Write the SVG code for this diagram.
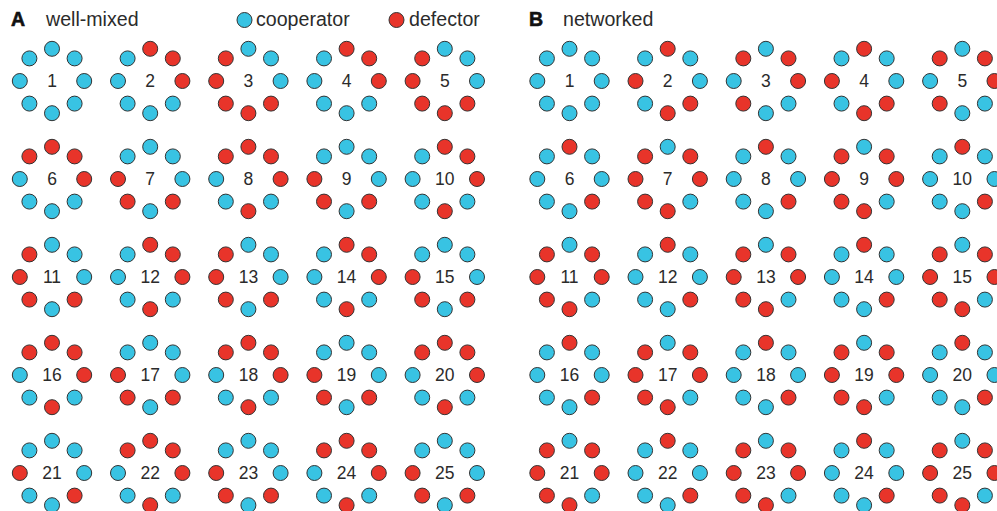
<svg xmlns="http://www.w3.org/2000/svg" xmlns:xlink="http://www.w3.org/1999/xlink" width="997" height="511" viewBox="0 0 997 511">
<style>
.c{fill:#38c3e3}
.d{fill:#e8342a}
circle{stroke:#333;stroke-width:1}
text{font-family:"Liberation Sans",Arial,sans-serif;fill:#2b2b2b}
.n{font-size:17.5px;text-anchor:middle}
.h{font-size:19.6px}
.b{font-size:19.5px;font-weight:bold;fill:#111;stroke:#111;stroke-width:0.6}
</style>
<defs>
<circle id="TL" cx="-22.6" cy="-22.6" r="7.5"/>
<circle id="T" cx="0" cy="-32.2" r="7.5"/>
<circle id="TR" cx="22.6" cy="-22.6" r="7.5"/>
<circle id="L" cx="-32.2" cy="0" r="7.5"/>
<circle id="R" cx="32.2" cy="0" r="7.5"/>
<circle id="BL" cx="-22.6" cy="22.6" r="7.5"/>
<circle id="B" cx="0" cy="32.2" r="7.5"/>
<circle id="BR" cx="22.6" cy="22.6" r="7.5"/>
</defs>
<rect width="997" height="511" fill="#fff"/>
<g id="header">
<text class="b" x="11" y="26">A</text>
<text class="h" x="46" y="26">well-mixed</text>
<circle class="c" cx="244.5" cy="20" r="7.5"/>
<text class="h" x="256" y="26">cooperator</text>
<circle class="d" cx="396.5" cy="20" r="7.5"/>
<text class="h" x="409" y="26">defector</text>
<text class="b" x="529" y="26">B</text>
<text class="h" x="563" y="26">networked</text>
</g>
<g id="connectors"/>
<!-- Panel A -->
<g id="a1" transform="translate(52,81)"><use href="#TL" class="c"/><use href="#T" class="c"/><use href="#TR" class="c"/><use href="#L" class="c"/><use href="#R" class="c"/><use href="#BL" class="c"/><use href="#B" class="c"/><use href="#BR" class="c"/><text class="n" y="6.3">1</text></g>
<g id="a2" transform="translate(150.2,81)"><use href="#TL" class="c"/><use href="#T" class="d"/><use href="#TR" class="d"/><use href="#L" class="c"/><use href="#R" class="d"/><use href="#BL" class="c"/><use href="#B" class="c"/><use href="#BR" class="c"/><text class="n" y="6.3">2</text></g>
<g id="a3" transform="translate(248.4,81)"><use href="#TL" class="d"/><use href="#T" class="c"/><use href="#TR" class="c"/><use href="#L" class="d"/><use href="#R" class="c"/><use href="#BL" class="d"/><use href="#B" class="d"/><use href="#BR" class="d"/><text class="n" y="6.3">3</text></g>
<g id="a4" transform="translate(346.6,81)"><use href="#TL" class="c"/><use href="#T" class="d"/><use href="#TR" class="d"/><use href="#L" class="c"/><use href="#R" class="d"/><use href="#BL" class="c"/><use href="#B" class="c"/><use href="#BR" class="c"/><text class="n" y="6.3">4</text></g>
<g id="a5" transform="translate(444.8,81)"><use href="#TL" class="d"/><use href="#T" class="c"/><use href="#TR" class="c"/><use href="#L" class="d"/><use href="#R" class="c"/><use href="#BL" class="d"/><use href="#B" class="d"/><use href="#BR" class="d"/><text class="n" y="6.3">5</text></g>
<g id="a6" transform="translate(52,179)"><use href="#TL" class="d"/><use href="#T" class="d"/><use href="#TR" class="d"/><use href="#L" class="c"/><use href="#R" class="d"/><use href="#BL" class="c"/><use href="#B" class="c"/><use href="#BR" class="c"/><text class="n" y="6.3">6</text></g>
<g id="a7" transform="translate(150.2,179)"><use href="#TL" class="c"/><use href="#T" class="c"/><use href="#TR" class="c"/><use href="#L" class="d"/><use href="#R" class="c"/><use href="#BL" class="d"/><use href="#B" class="c"/><use href="#BR" class="d"/><text class="n" y="6.3">7</text></g>
<g id="a8" transform="translate(248.4,179)"><use href="#TL" class="d"/><use href="#T" class="d"/><use href="#TR" class="d"/><use href="#L" class="c"/><use href="#R" class="d"/><use href="#BL" class="c"/><use href="#B" class="d"/><use href="#BR" class="c"/><text class="n" y="6.3">8</text></g>
<g id="a9" transform="translate(346.6,179)"><use href="#TL" class="c"/><use href="#T" class="c"/><use href="#TR" class="c"/><use href="#L" class="d"/><use href="#R" class="c"/><use href="#BL" class="d"/><use href="#B" class="c"/><use href="#BR" class="d"/><text class="n" y="6.3">9</text></g>
<g id="a10" transform="translate(444.8,179)"><use href="#TL" class="c"/><use href="#T" class="d"/><use href="#TR" class="d"/><use href="#L" class="c"/><use href="#R" class="d"/><use href="#BL" class="c"/><use href="#B" class="d"/><use href="#BR" class="c"/><text class="n" y="6.3">10</text></g>
<g id="a11" transform="translate(52,277)"><use href="#TL" class="d"/><use href="#T" class="c"/><use href="#TR" class="c"/><use href="#L" class="d"/><use href="#R" class="c"/><use href="#BL" class="d"/><use href="#B" class="c"/><use href="#BR" class="d"/><text class="n" y="6.3">11</text></g>
<g id="a12" transform="translate(150.2,277)"><use href="#TL" class="c"/><use href="#T" class="d"/><use href="#TR" class="d"/><use href="#L" class="c"/><use href="#R" class="d"/><use href="#BL" class="c"/><use href="#B" class="d"/><use href="#BR" class="c"/><text class="n" y="6.3">12</text></g>
<g id="a13" transform="translate(248.4,277)"><use href="#TL" class="d"/><use href="#T" class="c"/><use href="#TR" class="c"/><use href="#L" class="d"/><use href="#R" class="c"/><use href="#BL" class="d"/><use href="#B" class="c"/><use href="#BR" class="d"/><text class="n" y="6.3">13</text></g>
<g id="a14" transform="translate(346.6,277)"><use href="#TL" class="c"/><use href="#T" class="d"/><use href="#TR" class="d"/><use href="#L" class="c"/><use href="#R" class="d"/><use href="#BL" class="c"/><use href="#B" class="d"/><use href="#BR" class="c"/><text class="n" y="6.3">14</text></g>
<g id="a15" transform="translate(444.8,277)"><use href="#TL" class="c"/><use href="#T" class="c"/><use href="#TR" class="c"/><use href="#L" class="d"/><use href="#R" class="c"/><use href="#BL" class="d"/><use href="#B" class="c"/><use href="#BR" class="d"/><text class="n" y="6.3">15</text></g>
<g id="a16" transform="translate(52,375)"><use href="#TL" class="d"/><use href="#T" class="d"/><use href="#TR" class="d"/><use href="#L" class="c"/><use href="#R" class="d"/><use href="#BL" class="c"/><use href="#B" class="d"/><use href="#BR" class="c"/><text class="n" y="6.3">16</text></g>
<g id="a17" transform="translate(150.2,375)"><use href="#TL" class="c"/><use href="#T" class="c"/><use href="#TR" class="c"/><use href="#L" class="d"/><use href="#R" class="c"/><use href="#BL" class="d"/><use href="#B" class="c"/><use href="#BR" class="d"/><text class="n" y="6.3">17</text></g>
<g id="a18" transform="translate(248.4,375)"><use href="#TL" class="d"/><use href="#T" class="d"/><use href="#TR" class="d"/><use href="#L" class="c"/><use href="#R" class="d"/><use href="#BL" class="c"/><use href="#B" class="d"/><use href="#BR" class="c"/><text class="n" y="6.3">18</text></g>
<g id="a19" transform="translate(346.6,375)"><use href="#TL" class="c"/><use href="#T" class="c"/><use href="#TR" class="c"/><use href="#L" class="d"/><use href="#R" class="c"/><use href="#BL" class="d"/><use href="#B" class="c"/><use href="#BR" class="d"/><text class="n" y="6.3">19</text></g>
<g id="a20" transform="translate(444.8,375)"><use href="#TL" class="d"/><use href="#T" class="d"/><use href="#TR" class="d"/><use href="#L" class="c"/><use href="#R" class="d"/><use href="#BL" class="c"/><use href="#B" class="d"/><use href="#BR" class="c"/><text class="n" y="6.3">20</text></g>
<g id="a21" transform="translate(52,473)"><use href="#TL" class="c"/><use href="#T" class="c"/><use href="#TR" class="c"/><use href="#L" class="d"/><use href="#R" class="c"/><use href="#BL" class="c"/><use href="#B" class="c"/><use href="#BR" class="d"/><text class="n" y="6.3">21</text></g>
<g id="a22" transform="translate(150.2,473)"><use href="#TL" class="d"/><use href="#T" class="d"/><use href="#TR" class="d"/><use href="#L" class="c"/><use href="#R" class="d"/><use href="#BL" class="c"/><use href="#B" class="d"/><use href="#BR" class="c"/><text class="n" y="6.3">22</text></g>
<g id="a23" transform="translate(248.4,473)"><use href="#TL" class="c"/><use href="#T" class="c"/><use href="#TR" class="c"/><use href="#L" class="d"/><use href="#R" class="c"/><use href="#BL" class="d"/><use href="#B" class="c"/><use href="#BR" class="d"/><text class="n" y="6.3">23</text></g>
<g id="a24" transform="translate(346.6,473)"><use href="#TL" class="d"/><use href="#T" class="d"/><use href="#TR" class="d"/><use href="#L" class="c"/><use href="#R" class="d"/><use href="#BL" class="c"/><use href="#B" class="d"/><use href="#BR" class="c"/><text class="n" y="6.3">24</text></g>
<g id="a25" transform="translate(444.8,473)"><use href="#TL" class="c"/><use href="#T" class="c"/><use href="#TR" class="c"/><use href="#L" class="d"/><use href="#R" class="c"/><use href="#BL" class="d"/><use href="#B" class="c"/><use href="#BR" class="d"/><text class="n" y="6.3">25</text></g>
<!-- Panel B -->
<g id="b1" transform="translate(569.5,81)"><use href="#TL" class="c"/><use href="#T" class="c"/><use href="#TR" class="c"/><use href="#L" class="c"/><use href="#R" class="c"/><use href="#BL" class="c"/><use href="#B" class="c"/><use href="#BR" class="c"/><text class="n" y="6.3">1</text></g>
<g id="b2" transform="translate(667.7,81)"><use href="#TL" class="c"/><use href="#T" class="d"/><use href="#TR" class="c"/><use href="#L" class="d"/><use href="#R" class="c"/><use href="#BL" class="c"/><use href="#B" class="d"/><use href="#BR" class="d"/><text class="n" y="6.3">2</text></g>
<g id="b3" transform="translate(765.9,81)"><use href="#TL" class="d"/><use href="#T" class="c"/><use href="#TR" class="d"/><use href="#L" class="c"/><use href="#R" class="d"/><use href="#BL" class="d"/><use href="#B" class="c"/><use href="#BR" class="c"/><text class="n" y="6.3">3</text></g>
<g id="b4" transform="translate(864.1,81)"><use href="#TL" class="c"/><use href="#T" class="d"/><use href="#TR" class="c"/><use href="#L" class="d"/><use href="#R" class="c"/><use href="#BL" class="c"/><use href="#B" class="d"/><use href="#BR" class="d"/><text class="n" y="6.3">4</text></g>
<g id="b5" transform="translate(962.3,81)"><use href="#TL" class="d"/><use href="#T" class="c"/><use href="#TR" class="d"/><use href="#L" class="c"/><use href="#R" class="d"/><use href="#BL" class="d"/><use href="#B" class="c"/><use href="#BR" class="c"/><text class="n" y="6.3">5</text></g>
<g id="b6" transform="translate(569.5,179)"><use href="#TL" class="c"/><use href="#T" class="d"/><use href="#TR" class="c"/><use href="#L" class="c"/><use href="#R" class="c"/><use href="#BL" class="c"/><use href="#B" class="c"/><use href="#BR" class="d"/><text class="n" y="6.3">6</text></g>
<g id="b7" transform="translate(667.7,179)"><use href="#TL" class="d"/><use href="#T" class="c"/><use href="#TR" class="d"/><use href="#L" class="d"/><use href="#R" class="d"/><use href="#BL" class="d"/><use href="#B" class="d"/><use href="#BR" class="c"/><text class="n" y="6.3">7</text></g>
<g id="b8" transform="translate(765.9,179)"><use href="#TL" class="c"/><use href="#T" class="d"/><use href="#TR" class="c"/><use href="#L" class="c"/><use href="#R" class="c"/><use href="#BL" class="c"/><use href="#B" class="c"/><use href="#BR" class="d"/><text class="n" y="6.3">8</text></g>
<g id="b9" transform="translate(864.1,179)"><use href="#TL" class="d"/><use href="#T" class="c"/><use href="#TR" class="d"/><use href="#L" class="d"/><use href="#R" class="d"/><use href="#BL" class="d"/><use href="#B" class="d"/><use href="#BR" class="c"/><text class="n" y="6.3">9</text></g>
<g id="b10" transform="translate(962.3,179)"><use href="#TL" class="c"/><use href="#T" class="d"/><use href="#TR" class="c"/><use href="#L" class="c"/><use href="#R" class="c"/><use href="#BL" class="c"/><use href="#B" class="c"/><use href="#BR" class="d"/><text class="n" y="6.3">10</text></g>
<g id="b11" transform="translate(569.5,277)"><use href="#TL" class="d"/><use href="#T" class="c"/><use href="#TR" class="d"/><use href="#L" class="d"/><use href="#R" class="d"/><use href="#BL" class="d"/><use href="#B" class="d"/><use href="#BR" class="c"/><text class="n" y="6.3">11</text></g>
<g id="b12" transform="translate(667.7,277)"><use href="#TL" class="c"/><use href="#T" class="d"/><use href="#TR" class="c"/><use href="#L" class="c"/><use href="#R" class="c"/><use href="#BL" class="c"/><use href="#B" class="c"/><use href="#BR" class="d"/><text class="n" y="6.3">12</text></g>
<g id="b13" transform="translate(765.9,277)"><use href="#TL" class="d"/><use href="#T" class="c"/><use href="#TR" class="d"/><use href="#L" class="d"/><use href="#R" class="d"/><use href="#BL" class="d"/><use href="#B" class="d"/><use href="#BR" class="c"/><text class="n" y="6.3">13</text></g>
<g id="b14" transform="translate(864.1,277)"><use href="#TL" class="c"/><use href="#T" class="d"/><use href="#TR" class="c"/><use href="#L" class="c"/><use href="#R" class="c"/><use href="#BL" class="c"/><use href="#B" class="c"/><use href="#BR" class="d"/><text class="n" y="6.3">14</text></g>
<g id="b15" transform="translate(962.3,277)"><use href="#TL" class="d"/><use href="#T" class="c"/><use href="#TR" class="d"/><use href="#L" class="d"/><use href="#R" class="d"/><use href="#BL" class="d"/><use href="#B" class="d"/><use href="#BR" class="c"/><text class="n" y="6.3">15</text></g>
<g id="b16" transform="translate(569.5,375)"><use href="#TL" class="c"/><use href="#T" class="d"/><use href="#TR" class="c"/><use href="#L" class="c"/><use href="#R" class="c"/><use href="#BL" class="c"/><use href="#B" class="c"/><use href="#BR" class="d"/><text class="n" y="6.3">16</text></g>
<g id="b17" transform="translate(667.7,375)"><use href="#TL" class="d"/><use href="#T" class="c"/><use href="#TR" class="d"/><use href="#L" class="d"/><use href="#R" class="d"/><use href="#BL" class="d"/><use href="#B" class="d"/><use href="#BR" class="c"/><text class="n" y="6.3">17</text></g>
<g id="b18" transform="translate(765.9,375)"><use href="#TL" class="c"/><use href="#T" class="d"/><use href="#TR" class="c"/><use href="#L" class="c"/><use href="#R" class="c"/><use href="#BL" class="c"/><use href="#B" class="c"/><use href="#BR" class="d"/><text class="n" y="6.3">18</text></g>
<g id="b19" transform="translate(864.1,375)"><use href="#TL" class="d"/><use href="#T" class="c"/><use href="#TR" class="d"/><use href="#L" class="d"/><use href="#R" class="d"/><use href="#BL" class="d"/><use href="#B" class="d"/><use href="#BR" class="c"/><text class="n" y="6.3">19</text></g>
<g id="b20" transform="translate(962.3,375)"><use href="#TL" class="c"/><use href="#T" class="d"/><use href="#TR" class="c"/><use href="#L" class="c"/><use href="#R" class="c"/><use href="#BL" class="c"/><use href="#B" class="c"/><use href="#BR" class="d"/><text class="n" y="6.3">20</text></g>
<g id="b21" transform="translate(569.5,473)"><use href="#TL" class="d"/><use href="#T" class="c"/><use href="#TR" class="d"/><use href="#L" class="d"/><use href="#R" class="d"/><use href="#BL" class="d"/><use href="#B" class="d"/><use href="#BR" class="c"/><text class="n" y="6.3">21</text></g>
<g id="b22" transform="translate(667.7,473)"><use href="#TL" class="c"/><use href="#T" class="d"/><use href="#TR" class="c"/><use href="#L" class="c"/><use href="#R" class="c"/><use href="#BL" class="c"/><use href="#B" class="c"/><use href="#BR" class="d"/><text class="n" y="6.3">22</text></g>
<g id="b23" transform="translate(765.9,473)"><use href="#TL" class="d"/><use href="#T" class="c"/><use href="#TR" class="d"/><use href="#L" class="d"/><use href="#R" class="d"/><use href="#BL" class="d"/><use href="#B" class="d"/><use href="#BR" class="c"/><text class="n" y="6.3">23</text></g>
<g id="b24" transform="translate(864.1,473)"><use href="#TL" class="c"/><use href="#T" class="d"/><use href="#TR" class="c"/><use href="#L" class="c"/><use href="#R" class="c"/><use href="#BL" class="c"/><use href="#B" class="c"/><use href="#BR" class="d"/><text class="n" y="6.3">24</text></g>
<g id="b25" transform="translate(962.3,473)"><use href="#TL" class="d"/><use href="#T" class="c"/><use href="#TR" class="d"/><use href="#L" class="d"/><use href="#R" class="d"/><use href="#BL" class="d"/><use href="#B" class="d"/><use href="#BR" class="c"/><text class="n" y="6.3">25</text></g>
</svg>
